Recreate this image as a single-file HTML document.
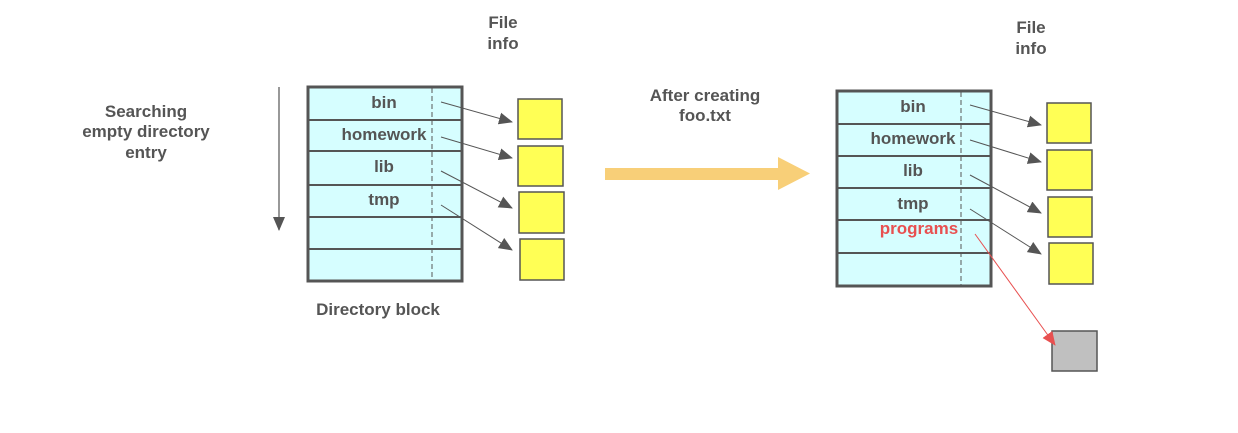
<!DOCTYPE html>
<html><head><style>body{margin:0;background:#fff}svg text{font-family:"Liberation Sans",sans-serif;font-weight:bold;font-size:17px;fill:#555}</style></head><body>
<svg width="1238" height="428" xmlns="http://www.w3.org/2000/svg">
<defs><marker id="a" markerWidth="14" markerHeight="12" refX="13" refY="6" orient="auto" markerUnits="userSpaceOnUse"><path d="M0,0L14,6L0,12z" fill="#555"/></marker>
<marker id="r" markerWidth="14" markerHeight="12" refX="13" refY="6" orient="auto" markerUnits="userSpaceOnUse"><path d="M0,0L14,6L0,12z" fill="#e85050"/></marker></defs>
<text x="503" y="28" text-anchor="middle">File</text><text x="503" y="49" text-anchor="middle">info</text>
<text x="1031" y="33" text-anchor="middle">File</text><text x="1031" y="54" text-anchor="middle">info</text>
<text x="146" y="117" text-anchor="middle">Searching</text><text x="146" y="137" text-anchor="middle">empty directory</text><text x="146" y="158" text-anchor="middle">entry</text>
<text x="705" y="101" text-anchor="middle">After creating</text><text x="705" y="121" text-anchor="middle">foo.txt</text>
<text x="378" y="315" text-anchor="middle">Directory block</text>
<line x1="279" y1="87" x2="279" y2="230" stroke="#555" stroke-width="1.2" marker-end="url(#a)"/>
<path d="M605,168H778V157L810,173.5L778,190V180H605z" fill="#f8cf78"/>
<g stroke="#555" stroke-width="3" fill="#d6feff">
<rect x="308" y="87" width="154" height="194"/><rect x="837" y="91" width="154" height="195"/></g>
<g stroke="#555" stroke-width="2">
<line x1="308" y1="120" x2="462" y2="120"/><line x1="308" y1="151" x2="462" y2="151"/><line x1="308" y1="185" x2="462" y2="185"/><line x1="308" y1="217" x2="462" y2="217"/><line x1="308" y1="249" x2="462" y2="249"/>
<line x1="837" y1="124" x2="991" y2="124"/><line x1="837" y1="156" x2="991" y2="156"/><line x1="837" y1="188" x2="991" y2="188"/><line x1="837" y1="220" x2="991" y2="220"/><line x1="837" y1="253" x2="991" y2="253"/></g>
<g stroke="#555" stroke-width="1" stroke-dasharray="5,3"><line x1="432" y1="88" x2="432" y2="280"/><line x1="961" y1="92" x2="961" y2="285"/></g>
<text x="384" y="108" text-anchor="middle">bin</text><text x="384" y="140" text-anchor="middle">homework</text><text x="384" y="172" text-anchor="middle">lib</text><text x="384" y="205" text-anchor="middle">tmp</text>
<text x="913" y="112" text-anchor="middle">bin</text><text x="913" y="144" text-anchor="middle">homework</text><text x="913" y="176" text-anchor="middle">lib</text><text x="913" y="209" text-anchor="middle">tmp</text>
<text x="919" y="234" text-anchor="middle" style="fill:#e85050">programs</text>
<g fill="#ffff55" stroke="#555" stroke-width="1.5">
<rect x="518" y="99" width="44" height="40"/><rect x="518" y="146" width="45" height="40"/><rect x="519" y="192" width="45" height="41"/><rect x="520" y="239" width="44" height="41"/>
<rect x="1047" y="103" width="44" height="40"/><rect x="1047" y="150" width="45" height="40"/><rect x="1048" y="197" width="44" height="40"/><rect x="1049" y="243" width="44" height="41"/></g>
<rect x="1052" y="331" width="45" height="40" fill="#c0c0c0" stroke="#555" stroke-width="1.5"/>
<g stroke="#555" stroke-width="1" marker-end="url(#a)">
<line x1="441" y1="102" x2="512" y2="122"/><line x1="441" y1="137" x2="512" y2="158"/><line x1="441" y1="171" x2="512" y2="208"/><line x1="441" y1="205" x2="512" y2="250"/>
<line x1="970" y1="105" x2="1041" y2="125"/><line x1="970" y1="140" x2="1041" y2="162"/><line x1="970" y1="175" x2="1041" y2="213"/><line x1="970" y1="209" x2="1041" y2="254"/></g>
<line x1="975" y1="234" x2="1055" y2="345" stroke="#e85050" stroke-width="1" marker-end="url(#r)"/>
</svg></body></html>
